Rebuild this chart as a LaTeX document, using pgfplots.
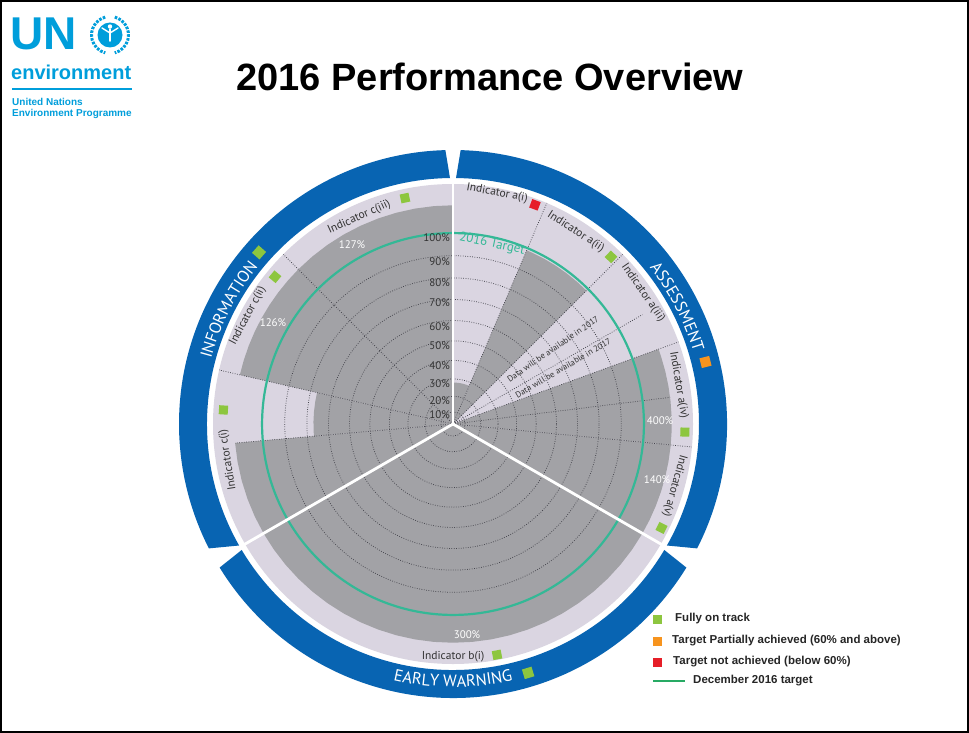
\documentclass[border=0pt]{standalone}
\usepackage{fontspec}
\setmainfont{Liberation Sans}
\newfontfamily\ptsans{PT Sans}
\usepackage{pgfplots}
\pgfplotsset{compat=1.18}
\usepgfplotslibrary{polar}
\usetikzlibrary{calc,decorations.text}
\definecolor{bargray}{RGB}{162,162,166}
\definecolor{lav}{RGB}{218,213,225}
\definecolor{ringblue}{RGB}{8,100,178}
\definecolor{target}{RGB}{52,184,150}
\definecolor{okgreen}{RGB}{141,198,63}
\definecolor{partorange}{RGB}{247,148,30}
\definecolor{badred}{RGB}{230,30,40}
\definecolor{unblue}{RGB}{0,158,219}
\definecolor{gridc}{RGB}{70,70,78}
\definecolor{txt}{RGB}{50,50,50}
\definecolor{legline}{RGB}{40,170,100}
\newcommand\ringfont{\ptsans\fontsize{16.5}{16.5}\selectfont}
\newcommand\indfont{\ptsans\fontsize{11.5}{12}\selectfont}
\newcommand\tickfont{\ptsans\fontsize{11}{12}\selectfont}
% inner start, inner end, outer start, outer end, r in, r out
\newcommand\ringseg[6]{\fill[ringblue] ($(C)+(#3:#6)$) arc[start angle=#3, end angle=#4, radius=#6] -- ($(C)+(#2:#5)$) arc[start angle=#2, end angle=#1, radius=#5] -- cycle;}
\begin{document}
\begin{tikzpicture}[x=1pt,y=1pt]
\useasboundingbox (0,0) rectangle (969,-733);
\fill[white] (0,0) rectangle (969,-733);
\draw[black, line width=2pt] (1,-1) rectangle (968,-732);
% light disc
\fill[lav] (453,-424) circle (240);
\begin{polaraxis}[
  at={(453pt,-424pt)}, anchor=origin,
  width=480pt, height=480pt, scale only axis,
  xmin=0, xmax=360, ymin=0, ymax=121,
  y coord trafo/.code={\pgfmathparse{100*exp(1.2*ln(#1/100+0.0001))}},
  axis line style={draw=none},
  major tick length=0pt,
  xtick={354.5,20,45,67,135,167},
  ytick={10,20,30,40,50,60,70,80,90},
  xticklabels={}, yticklabels={},
  grid=major,
  major grid style={gridc, line width=0.75pt, dash pattern=on 0.75pt off 1.6pt},
  extra y ticks={100},
  extra y tick labels={},
  extra y tick style={grid=major, major grid style={target, solid, line width=2.2pt}},
  axis on top,
  clip=false,
]
\coordinate (C) at (axis cs:0,0);
% a(i)  value read ~28 %
\addplot[fill=bargray, draw=none] coordinates {(67,0) (67,28) (71,28) (75,28) (79,28) (83,28) (87,28) (90,28) (90,0)};
% a(ii) ~99 %
\addplot[fill=bargray, draw=none] coordinates {(45,0) (45,99) (49,99) (53,99) (57,99) (61,99) (65,99) (67,99) (67,0)};
% a(iii) no data (2017)
% a(iv) 400 % (drawn capped at 112)
\addplot[fill=bargray, draw=none] coordinates {(-5.5,0) (-5.5,112) (-2,112) (2,112) (6,112) (10,112) (14,112) (18,112) (20,112) (20,0)};
% a(v) 140 % (capped)
\addplot[fill=bargray, draw=none] coordinates {(-30,0) (-30,112) (-26,112) (-22,112) (-18,112) (-14,112) (-10,112) (-6,112) (-5.5,112) (-5.5,0)};
% b(i) 300 % (capped)
\addplot[fill=bargray, draw=none] coordinates {(210,0) (210,112) (215,112) (220,112) (225,112) (230,112) (235,112) (240,112) (245,112) (250,112) (255,112) (260,112) (265,112) (270,112) (275,112) (280,112) (285,112) (290,112) (295,112) (300,112) (305,112) (310,112) (315,112) (320,112) (325,112) (330,112) (330,0)};
% c(i) ~77 %
\addplot[fill=bargray, draw=none] coordinates {(167,0) (167,77) (171,77) (175,77) (179,77) (183,77) (185,77) (185,0)};
\addplot[fill=bargray, draw=none] coordinates {(185,0) (185,112) (190,112) (195,112) (200,112) (205,112) (210,112) (210,0)};
% c(ii) 126 % (capped)
\addplot[fill=bargray, draw=none] coordinates {(135,0) (135,112) (139,112) (143,112) (147,112) (151,112) (155,112) (159,112) (163,112) (167,112) (167,0)};
% c(iii) 127 % (capped)
\addplot[fill=bargray, draw=none] coordinates {(90,0) (90,112) (95,112) (100,112) (105,112) (110,112) (115,112) (120,112) (125,112) (130,112) (135,112) (135,0)};
% short dotted sub-division lines
\addplot[gridc, line width=0.75pt, dash pattern=on 0.75pt off 1.6pt] coordinates {(30,0) (30,112)};
\addplot[gridc, line width=0.75pt, dash pattern=on 0.75pt off 1.6pt] coordinates {(7,0) (7,112)};
\addplot[gridc, line width=0.75pt, dash pattern=on 0.75pt off 1.6pt] coordinates {(185,0) (185,112)};
\end{polaraxis}
% white separators
\foreach \a in {90,210,330} \draw[white, line width=2.8pt] (C) -- ($(C)+(\a:241)$);
% blue ring
\ringseg{90.7}{209.6}{91.6}{207}{246}{274}
\ringseg{-29.6}{89.3}{-27}{88.4}{246}{274}
\ringseg{210.8}{329.2}{211.6}{328.4}{246}{274}
% ring labels
\path[decorate, decoration={text along path, text align=center, text color=white, text={|\ringfont|INFORMATION}}] ($(C)+(183:250.5)$) arc[start angle=183, end angle=123, radius=250.5];
\path[decorate, decoration={text along path, text align=center, text color=white, text={|\ringfont|ASSESSMENT}}] ($(C)+(57.5:251)$) arc[start angle=57.5, end angle=-2.5, radius=251];
\path[decorate, decoration={text along path, text align=center, text color=white, text={|\ringfont|EARLY WARNING}}] ($(C)+(-120:263)$) arc[start angle=-120, end angle=-60, radius=263];
% group squares
\node[fill=okgreen, minimum size=10pt, inner sep=0, rotate=48.5] at ($(C)+(138.5:259)$) {};
\node[fill=partorange, minimum size=10pt, inner sep=0, rotate=-76] at ($(C)+(13.8:260)$) {};
\node[fill=okgreen, minimum size=10pt, inner sep=0, rotate=16.8] at ($(C)+(-73.2:260)$) {};
% indicator labels
\node[font=\indfont, text=txt, rotate=-10.8] at ($(C)+(79.2:235)$) {Indicator a(i)};
\node[fill=badred, minimum size=9pt, inner sep=0, rotate=-20.5] at ($(C)+(69.5:234)$) {};
\node[font=\indfont, text=txt, rotate=-32.6] at ($(C)+(57.4:228)$) {Indicator a(ii)};
\node[fill=okgreen, minimum size=9pt, inner sep=0, rotate=-43.4] at ($(C)+(46.6:230)$) {};
\node[font=\indfont, text=txt, rotate=-55.4] at ($(C)+(34.6:231)$) {Indicator a(iii)};
\node[font=\indfont, text=txt, rotate=-80.2] at ($(C)+(9.8:229)$) {Indicator a(iv)};
\node[fill=okgreen, minimum size=9pt, inner sep=0, rotate=-92] at ($(C)+(-2:232)$) {};
\node[font=\indfont, text=txt, rotate=-105.6] at ($(C)+(-15.6:230)$) {Indicator a(v)};
\node[fill=okgreen, minimum size=9pt, inner sep=0, rotate=-116.5] at ($(C)+(-26.5:233)$) {};
\node[font=\indfont, text=txt] at ($(C)+(-90:233)$) {Indicator b(i)};
\node[fill=okgreen, minimum size=9pt, inner sep=0, rotate=10.8] at ($(C)+(-79.2:235)$) {};
\node[font=\indfont, text=txt, rotate=99.1] at ($(C)+(189.1:228)$) {Indicator c(i)};
\node[fill=okgreen, minimum size=9pt, inner sep=0, rotate=86.5] at ($(C)+(176.5:230)$) {};
\node[font=\indfont, text=txt, rotate=62.2] at ($(C)+(152.2:232)$) {Indicator c(ii)};
\node[fill=okgreen, minimum size=9pt, inner sep=0, rotate=50.4] at ($(C)+(140.4:231)$) {};
\node[font=\indfont, text=txt, rotate=24.4] at ($(C)+(114.4:227)$) {Indicator c(iii)};
\node[fill=okgreen, minimum size=9pt, inner sep=0, rotate=12] at ($(C)+(102:231)$) {};
% value labels
\foreach \p/\t in {{(352,-245)}/127\%, {(273,-323)}/126\%, {(660,-421)}/400\%, {(657,-480)}/140\%, {(467,-635)}/300\%}
  \node[font=\tickfont, text=white] at \p {\t};
% tick labels
\foreach \y/\t in {238/100, 262/90, 283/80, 303/70, 327/60, 346/50, 366/40, 384/30, 401/20, 415/10}
  \node[font=\tickfont, text=txt, anchor=east, inner sep=0] at (450,-\y) {\t\%};
\node[font=\ptsans\fontsize{13}{13}\selectfont, text=target, rotate=-12] at (492,-244) {2016 Target};
\node[font=\ptsans\fontsize{8.5}{9}\selectfont, text=txt, rotate=34.6] at (553,-349) {Data will be available in 2017};
\node[font=\ptsans\fontsize{8.5}{9}\selectfont, text=txt, rotate=30.4] at (563,-368) {Data will be available in 2017};
% title
\node[anchor=base, font=\bfseries\fontsize{38}{38}\selectfont] at (490,-90.5) {2016 Performance Overview};
% logo
\node[anchor=base west, inner sep=0, text=unblue, font=\bfseries\fontsize{46}{46}\selectfont] at (10,-50) {UN};
\draw[unblue, line width=3pt, dash pattern=on 2.6pt off 1.3pt] (110,-35) ++(105:18.5) arc[start angle=105, end angle=255, radius=18.5];
\draw[unblue, line width=3pt, dash pattern=on 2.6pt off 1.3pt] (110,-35) ++(75:18.5) arc[start angle=75, end angle=-75, radius=18.5];
\fill[unblue] (110,-35) circle (12.5);
\fill[white] (110,-26.5) circle (2.2);
\draw[white, line width=1.6pt, line cap=round] (110,-29) -- (110,-41);
\draw[white, line width=1.4pt, line cap=round] (102,-28) -- (110,-33) -- (118,-28);
\node[anchor=base west, inner sep=0, text=unblue, font=\bfseries\fontsize{20}{20}\selectfont] at (11,-80) {environment};
\draw[unblue, line width=2pt] (12,-89) -- (132,-89);
\node[anchor=base west, inner sep=0, text=unblue, font=\bfseries\fontsize{10}{10}\selectfont] at (12,-105.5) {United Nations};
\node[anchor=base west, inner sep=0, text=unblue, font=\bfseries\fontsize{10}{10}\selectfont] at (12,-117) {Environment Programme};
% legend
\fill[okgreen] (653,-614.5) rectangle (662,-623.5);
\fill[partorange] (653,-636.5) rectangle (662,-645.5);
\fill[badred] (653,-657.5) rectangle (662,-666.5);
\draw[legline, line width=2pt] (653,-681) -- (685,-681);
\node[anchor=west, inner sep=0, font=\bfseries\fontsize{11.5}{12}\selectfont, text=black!85] at (675,-619) {Fully on track};
\node[anchor=west, inner sep=0, font=\bfseries\fontsize{11.5}{12}\selectfont, text=black!85] at (672,-641) {Target Partially achieved (60\% and above)};
\node[anchor=west, inner sep=0, font=\bfseries\fontsize{11.5}{12}\selectfont, text=black!85] at (673,-662) {Target not achieved (below 60\%)};
\node[anchor=west, inner sep=0, font=\bfseries\fontsize{11.5}{12}\selectfont, text=black!85] at (693,-681) {December 2016 target};
\end{tikzpicture}
\end{document}
